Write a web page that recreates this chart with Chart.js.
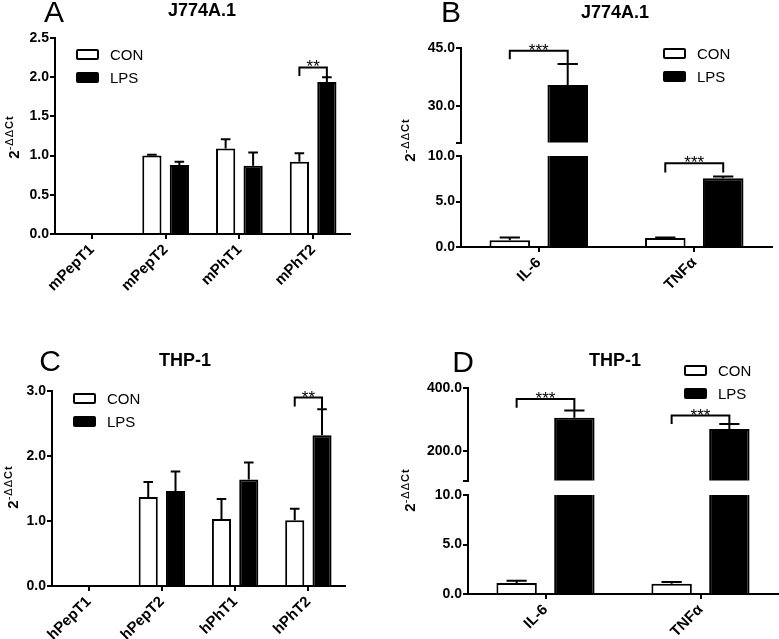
<!DOCTYPE html>
<html>
<head>
<meta charset="utf-8">
<script src="https://cdn.jsdelivr.net/npm/chart.js@4.4.1/dist/chart.umd.min.js"></script>
<style>
    body { margin: 0; background: #fff; width: 779px; height: 639px; position: relative; overflow: hidden;
           font-family: "Liberation Sans", Arial, sans-serif; color: #000; }
    canvas { position: absolute; }
    .mid { position: absolute; transform: translate(-50%, -50%); white-space: nowrap; }
    .letter { font-size: 30px; }
    .titel { font-size: 18px; font-weight: bold; }
    .ytitel { position: absolute; transform: translate(-50%, -50%) rotate(-90deg); white-space: nowrap;
              font-size: 15px; font-weight: bold; }
    .ytitel sup { font-size: 11px; font-weight: normal; letter-spacing: 1px; vertical-align: 6px; }
    .ytitel sup b { font-weight: bold; }
    .leg { position: absolute; font-size: 15px; line-height: 15px; white-space: nowrap; }
    .leg .doos { position: absolute; left: 0; width: 19px; height: 7px; border: 2px solid #000; border-radius: 2px; }
    .leg .tekst { position: absolute; }
</style>
</head>
<body>

<canvas id="grafiekA" width="390" height="320" style="left:0;top:0"></canvas>
<canvas id="grafiekBhoog" width="389" height="152" style="left:390px;top:0"></canvas>
<canvas id="grafiekBlaag" width="389" height="180" style="left:390px;top:140px"></canvas>
<canvas id="grafiekC" width="390" height="319" style="left:0;top:320px"></canvas>
<canvas id="grafiekDhoog" width="389" height="170" style="left:390px;top:320px"></canvas>
<canvas id="grafiekDlaag" width="389" height="159" style="left:390px;top:480px"></canvas>

<div class="mid letter" style="left:54px;top:12px">A</div>
<div class="mid titel" style="left:202px;top:10px">J774A.1</div>
<div class="mid letter" style="left:451px;top:12px">B</div>
<div class="mid titel" style="left:615px;top:12px">J774A.1</div>
<div class="mid letter" style="left:50px;top:361px">C</div>
<div class="mid titel" style="left:185px;top:360px">THP-1</div>
<div class="mid letter" style="left:463px;top:362px">D</div>
<div class="mid titel" style="left:615px;top:360px">THP-1</div>

<div class="ytitel" style="left:12px;top:137px">2<sup>-ΔΔ<b>Ct</b></sup></div>
<div class="ytitel" style="left:408px;top:140px">2<sup>-ΔΔ<b>Ct</b></sup></div>
<div class="ytitel" style="left:11px;top:487px">2<sup>-ΔΔ<b>Ct</b></sup></div>
<div class="ytitel" style="left:408px;top:490px">2<sup>-ΔΔ<b>Ct</b></sup></div>

<div id="legA" class="leg" style="left:76px;top:49px"></div>
<div id="legB" class="leg" style="left:663px;top:48px"></div>
<div id="legC" class="leg" style="left:73px;top:393px"></div>
<div id="legD" class="leg" style="left:684px;top:365px"></div>

<script>
const reeksen = ["CON", "LPS"];

// A: J774A.1 transporters
const groepenA = ["mPepT1", "mPepT2", "mPhT1", "mPhT2"];
const conA = [null, 1.00, 1.09, 0.92];
const conFoutA = [null, 0.01, 0.12, 0.11];
const lpsA = [null, 0.88, 0.87, 1.94];
const lpsFoutA = [null, 0.04, 0.17, 0.06];
const ticksA = [0, 0.5, 1.0, 1.5, 2.0, 2.5];

// B: J774A.1 cytokines (gebroken as)
const groepenB = ["IL-6", "TNFα"];
const conB = [0.75, 1.0];
const conFoutB = [0.3, 0.05];
const lpsB = [35.5, 7.55];
const lpsFoutB = [5.4, 0.2];
const ticksBlaag = [0, 5, 10];
const ticksBhoog = [20.7, 30, 45];

// C: THP-1 transporters
const groepenC = ["hPepT1", "hPepT2", "hPhT1", "hPhT2"];
const conC = [null, 1.37, 1.03, 1.01];
const conFoutC = [null, 0.23, 0.31, 0.18];
const lpsC = [null, 1.46, 1.64, 2.32];
const lpsFoutC = [null, 0.3, 0.26, 0.40];
const ticksC = [0, 1.0, 2.0, 3.0];

// D: THP-1 cytokines (gebroken as)
const groepenD = ["IL-6", "TNFα"];
const conD = [1.1, 1.03];
const conFoutD = [0.23, 0.17];
const lpsD = [305, 269];
const lpsFoutD = [23, 16];
const ticksDlaag = [0, 5, 10];
const ticksDhoog = [105, 200, 400];

// significantie haakjes: groep, hoogte, linker- en rechterpoot, tekst
const haakjesA = [{ groep: 3, top: 2.125, beenL: 2.015, beenR: 1.99, tekst: "**" }];
const haakjesBhoog = [{ groep: 0, top: 44.3, beenL: 42.1, beenR: 40.9, tekst: "***" }];
const haakjesBlaag = [{ groep: 1, top: 9.2, beenL: 8.2, beenR: 8.2, tekst: "***" }];
const haakjesC = [{ groep: 3, top: 2.90, beenL: 2.76, beenR: 2.72, tekst: "**" }];
const haakjesDhoog = [
    { groep: 0, top: 365, beenL: 337, beenR: 328, tekst: "***" },
    { groep: 1, top: 312, beenL: 285, beenR: 285, tekst: "***" }
];

const lettertype = "'Liberation Sans', Arial, sans-serif";

const foutbalken = {
    id: "foutbalken",
    afterDatasetsDraw(chart) {
        const ctx = chart.ctx;
        const y = chart.scales.y;
        const area = chart.chartArea;
        ctx.save();
        ctx.beginPath();
        ctx.rect(area.left, area.top - 1, area.right - area.left, area.bottom - area.top + 1);
        ctx.clip();
        ctx.strokeStyle = "#000";
        ctx.lineWidth = 2;
        chart.data.datasets.forEach((ds, i) => {
            chart.getDatasetMeta(i).data.forEach((bar, j) => {
                const v = ds.data[j];
                const e = ds.fout[j];
                if (v == null || !e) return;
                const y0 = y.getPixelForValue(v);
                const y1 = y.getPixelForValue(v + e);
                const half = bar.width / 4;
                ctx.beginPath();
                ctx.moveTo(bar.x, y0);
                ctx.lineTo(bar.x, y1);
                ctx.moveTo(bar.x - half, y1);
                ctx.lineTo(bar.x + half, y1);
                ctx.stroke();
            });
        });
        ctx.restore();
    }
};

const haakjes = {
    id: "haakjes",
    afterDraw(chart, args, opts) {
        const ctx = chart.ctx;
        const y = chart.scales.y;
        ctx.save();
        ctx.strokeStyle = "#000";
        ctx.fillStyle = "#000";
        ctx.lineWidth = 2;
        (opts.items || []).forEach(h => {
            const xl = chart.getDatasetMeta(0).data[h.groep].x;
            const xr = chart.getDatasetMeta(1).data[h.groep].x;
            const yt = y.getPixelForValue(h.top);
            ctx.beginPath();
            ctx.moveTo(xl, y.getPixelForValue(h.beenL));
            ctx.lineTo(xl, yt);
            ctx.lineTo(xr, yt);
            ctx.lineTo(xr, y.getPixelForValue(h.beenR));
            ctx.stroke();
            ctx.font = "17px " + lettertype;
            ctx.textAlign = "center";
            ctx.textBaseline = "alphabetic";
            ctx.fillText(h.tekst, (xl + xr) / 2, yt + 5);
        });
        ctx.restore();
    }
};

function staafGrafiek(id, cfg) {
    return new Chart(document.getElementById(id), {
        type: "bar",
        data: {
            labels: cfg.groepen,
            datasets: [
                { label: reeksen[0], data: cfg.con, fout: cfg.conFout, backgroundColor: "#fff",
                  borderColor: "#000", borderWidth: 2, clip: 0 },
                { label: reeksen[1], data: cfg.lps, fout: cfg.lpsFout, backgroundColor: "#000",
                  borderColor: "#000", borderWidth: 2, clip: 0 }
            ]
        },
        options: {
            responsive: false,
            animation: false,
            devicePixelRatio: 1,
            categoryPercentage: 0.745,
            barPercentage: 0.7,
            layout: { padding: cfg.padding },
            plugins: {
                legend: { display: false },
                tooltip: { enabled: false },
                haakjes: { items: cfg.haakjes || [] }
            },
            scales: {
                x: {
                    display: cfg.toonX,
                    grid: { offset: false, drawOnChartArea: false, color: "#000", lineWidth: 2, tickLength: 5 },
                    border: { color: "#000", width: 2 },
                    ticks: { color: "#000", font: { family: lettertype, size: 15, weight: "bold" },
                             minRotation: 45, maxRotation: 45, padding: 2, autoSkip: false },
                    afterFit: s => { s.height = cfg.xHoogte; }
                },
                y: {
                    min: cfg.ticks[0],
                    max: cfg.ticks[cfg.ticks.length - 1],
                    afterBuildTicks: s => { s.ticks = cfg.ticks.map(v => ({ value: v })); },
                    grid: { drawOnChartArea: false, color: "#000", lineWidth: 2, tickLength: 5 },
                    border: { color: "#000", width: 2 },
                    ticks: { color: "#000", font: { family: lettertype, size: 14, weight: "bold" }, padding: 1,
                             autoSkip: false,
                             callback: v => (cfg.breuk && v === cfg.ticks[0]) ? "" : Number(v).toFixed(1) },
                    afterFit: s => { s.width = cfg.yBreedte; }
                }
            }
        },
        plugins: [foutbalken, haakjes]
    });
}

staafGrafiek("grafiekA", {
    groepen: groepenA, con: conA, conFout: conFoutA, lps: lpsA, lpsFout: lpsFoutA,
    ticks: ticksA, yBreedte: 55, xHoogte: 86, toonX: true,
    padding: { left: 0, top: 38, right: 40, bottom: 0 }, haakjes: haakjesA
});

staafGrafiek("grafiekBhoog", {
    groepen: groepenB, con: conB, conFout: conFoutB, lps: lpsB, lpsFout: lpsFoutB,
    ticks: ticksBhoog, breuk: true, yBreedte: 71, xHoogte: 0, toonX: false,
    padding: { left: 0, top: 48, right: 7, bottom: 5 }, haakjes: haakjesBhoog
});
staafGrafiek("grafiekBlaag", {
    groepen: groepenB, con: conB, conFout: conFoutB, lps: lpsB, lpsFout: lpsFoutB,
    ticks: ticksBlaag, yBreedte: 71, xHoogte: 73, toonX: true,
    padding: { left: 0, top: 16, right: 7, bottom: 0 }, haakjes: haakjesBlaag
});

staafGrafiek("grafiekC", {
    groepen: groepenC, con: conC, conFout: conFoutC, lps: lpsC, lpsFout: lpsFoutC,
    ticks: ticksC, yBreedte: 52, xHoogte: 53, toonX: true,
    padding: { left: 0, top: 71, right: 45, bottom: 0 }, haakjes: haakjesC
});

staafGrafiek("grafiekDhoog", {
    groepen: groepenD, con: conD, conFout: conFoutD, lps: lpsD, lpsFout: lpsFoutD,
    ticks: ticksDhoog, breuk: true, yBreedte: 78, xHoogte: 0, toonX: false,
    padding: { left: 0, top: 68, right: 1, bottom: 4 }, haakjes: haakjesDhoog
});
staafGrafiek("grafiekDlaag", {
    groepen: groepenD, con: conD, conFout: conFoutD, lps: lpsD, lpsFout: lpsFoutD,
    ticks: ticksDlaag, yBreedte: 78, xHoogte: 45, toonX: true,
    padding: { left: 0, top: 15, right: 1, bottom: 0 }
});

// legenda's
const vulling = ["#fff", "#000"];
["legA", "legB", "legC", "legD"].forEach(id => {
    const el = document.getElementById(id);
    reeksen.forEach((naam, i) => {
        const top = i * 23;
        el.innerHTML += `<div class="doos" style="top:${top}px;background:${vulling[i]}"></div>`
            + `<div class="tekst" style="left:34px;top:${top - 2}px">${naam}</div>`;
    });
});
</script>
</body>
</html>
